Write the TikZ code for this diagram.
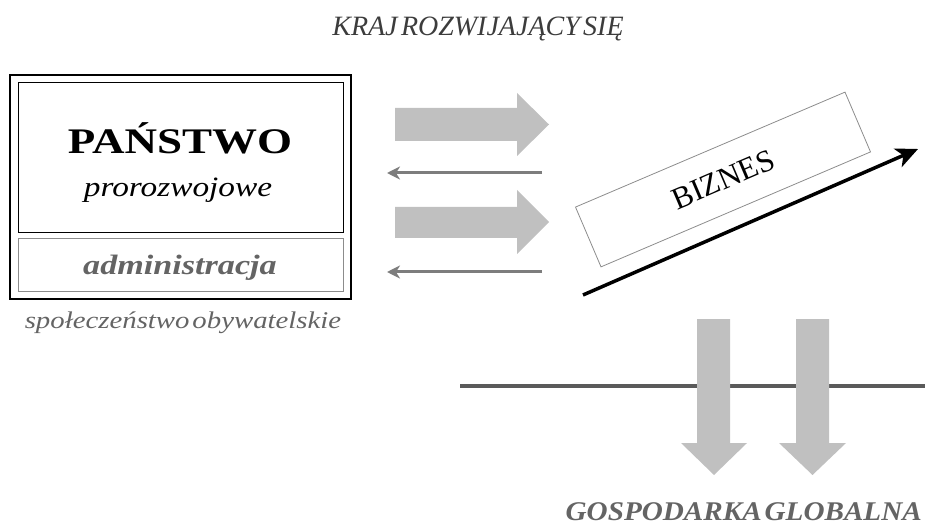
\documentclass[tikz,border=0pt]{standalone}
\usepackage{fontspec}
\setmainfont{Liberation Serif}
\usetikzlibrary{arrows.meta}
\definecolor{arrowgray}{RGB}{192,192,192}
\definecolor{thingray}{RGB}{125,125,125}
\definecolor{textgray}{RGB}{100,100,100}
\definecolor{linegray}{RGB}{90,90,90}
\definecolor{titlegray}{RGB}{60,60,60}
\definecolor{boxgray}{RGB}{140,140,140}
\begin{document}
\begin{tikzpicture}[x=1pt,y=1pt,
  bigarrow/.style={fill=arrowgray},
  thinarrow/.style={draw=thingray, line width=3pt, -{Stealth[length=13pt,width=13pt,inset=4pt]}},
  labeltext/.style={inner sep=0pt, anchor=base}]
\useasboundingbox (0,0) rectangle (925,-526);

% title
\node[labeltext, font=\itshape\fontsize{28}{32}\selectfont, text=titlegray] (title) at (478,-36) {KRAJ\hspace{0.12em}ROZWIJAJĄCY\hspace{0.12em}SIĘ};

% state boxes
\node[draw, line width=2pt, minimum width=341pt, minimum height=224pt, inner sep=0pt] (outer) at (180.5,-187) {};
\node[draw, line width=1pt, minimum width=325pt, minimum height=150pt, inner sep=0pt] (panstwo) at (180.5,-158) {};
\node[draw=boxgray, line width=1pt, minimum width=325pt, minimum height=52pt, inner sep=0pt] (admin) at (180.5,-265) {};

\node[labeltext, font=\bfseries\fontsize{36}{40}\selectfont] (ptext) at (180,-154) {\scalebox{1.25}[1]{PAŃSTWO}};
\node[labeltext, font=\itshape\fontsize{28}{32}\selectfont] (prtext) at (178,-197) {\scalebox{1.19}[1]{prorozwojowe}};
\node[labeltext, font=\bfseries\itshape\fontsize{28}{32}\selectfont, text=textgray] (atext) at (180,-275) {\scalebox{1.22}[1]{administracja}};
\node[labeltext, font=\itshape\fontsize{24}{28}\selectfont, text=textgray] (stext) at (183,-328) {\scalebox{1.2}[1]{społeczeństwo\hspace{0.1em}obywatelskie}};

% big right arrows
\fill[bigarrow] (395,-108) -- (517,-108) -- (517,-93) -- (549,-124.5) -- (517,-156) -- (517,-141) -- (395,-141) -- cycle;
\fill[bigarrow] (395,-207) -- (517,-207) -- (517,-190) -- (549,-222) -- (517,-254) -- (517,-238) -- (395,-238) -- cycle;

% thin left arrows
\coordinate (t1s) at (542,-173);
\coordinate (t1e) at (387,-173);
\coordinate (t2s) at (542,-272);
\coordinate (t2e) at (387,-272);
\draw[thinarrow] (t1s) -- (t1e);
\draw[thinarrow] (t2s) -- (t2e);

% business box
\node[draw=boxgray, line width=0.8pt, rotate=23.1, minimum width=293pt, minimum height=65pt, inner sep=0pt,
      font=\fontsize{31}{34}\selectfont] (biznes) at (723,-179.5) {BIZNES};
\coordinate (bs) at (583,-295);
\coordinate (be) at (918,-149);
\draw[line width=3.5pt, -{Stealth[length=22pt,width=20pt,inset=6pt]}] (bs) -- (be);

% horizontal line
\coordinate (hl) at (460,-386);
\coordinate (hr) at (925,-386);
\draw[draw=linegray, line width=3.5pt] (hl) -- (hr);

% down arrows
\fill[bigarrow] (697,-319) -- (730,-319) -- (730,-443) -- (747,-443) -- (714,-475) -- (681,-443) -- (697,-443) -- cycle;
\fill[bigarrow] (796,-319) -- (829,-319) -- (829,-443) -- (846,-443) -- (812.5,-475) -- (779,-443) -- (796,-443) -- cycle;

\node[labeltext, font=\bfseries\itshape\fontsize{27}{30}\selectfont, text=textgray, anchor=base east] (gtext) at (922,-520) {\scalebox{1.08}[1]{GOSPODARKA\hspace{0.1em}GLOBALNA}};
\end{tikzpicture}
\end{document}
